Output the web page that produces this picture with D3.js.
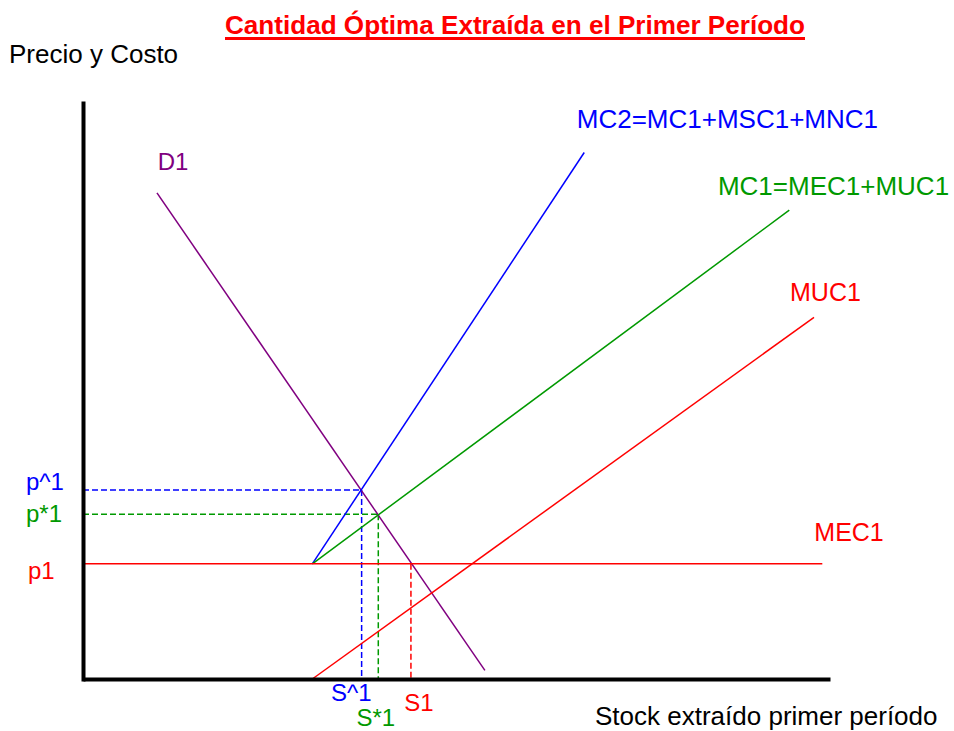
<!DOCTYPE html>
<html>
<head>
<meta charset="utf-8">
<script src="https://cdn.jsdelivr.net/npm/d3@7"></script>
<style>
  html, body { margin: 0; padding: 0; background: #fff; }
  svg { display: block; font-family: "Liberation Sans", Arial, sans-serif; }
</style>
</head>
<body>
<svg id="chart" width="954" height="731"></svg>
<script>
// ---- data (abstract units: stock on x, price/cost on y, both 0..10) ----
const titleText = "Cantidad Óptima Extraída en el Primer Período";
const yAxisTitle = "Precio y Costo";
const xAxisTitle = "Stock extraído primer período";

// curves: [x, y] endpoints
const curveNames  = ["D1", "MC2", "MC1", "MUC1", "MEC1"];
const curveLabels = ["D1", "MC2=MC1+MSC1+MNC1", "MC1=MEC1+MUC1", "MUC1", "MEC1"];
const curveColors = ["#800080", "#0000ff", "#009900", "#ff0000", "#ff0000"];
const curveStart  = [[0.99, 8.44], [3.07, 2.00], [3.07, 2.00], [3.07, 0.00], [0.00, 2.00]];
const curveEnd    = [[5.38, 0.15], [6.71, 9.14], [9.455, 8.14], [9.786, 6.28], [9.897, 2.00]];
// label anchor positions (data units)
const labelPos    = [[1.00, 8.83], [6.61, 9.56], [8.50, 8.40], [9.465, 6.57], [9.79, 2.40]];
const labelSize   = [24, 26, 26, 25, 25];

// equilibrium points (price level, stock level)
const eqNames   = ["p^1", "p*1", "p1"];
const eqSNames  = ["S^1", "S*1", "S1"];
const eqColors  = ["#0000ff", "#009900", "#ff0000"];
const eqPrice   = [3.28, 2.86, 2.00];
const eqStock   = [3.73, 3.953, 4.39];
const eqSLabelY = [-0.39, -0.81, -0.56];   // label baselines below the axis (data units)
const eqSLabelX = [3.32, 3.66, 4.30];      // label left edges (data units)

// ---- layout ----
const svg = d3.select("#chart");
const x = d3.scaleLinear().domain([0, 10]).range([83, 830]);
const y = d3.scaleLinear().domain([0, 10]).range([679, 103]);

// title
svg.append("text")
  .attr("x", 225).attr("y", 34)
  .attr("fill", "#ff0000")
  .attr("font-weight", "bold")
  .attr("font-size", 26)
  .attr("textLength", 580)
  .attr("lengthAdjust", "spacingAndGlyphs")
  .text(titleText);
svg.append("line")
  .attr("x1", 225).attr("x2", 805)
  .attr("y1", 38.5).attr("y2", 38.5)
  .attr("stroke", "#ff0000").attr("stroke-width", 3);

// axis titles
svg.append("text").attr("x", 9).attr("y", 63)
  .attr("font-size", 26).attr("fill", "#000").text(yAxisTitle);
svg.append("text").attr("x", 595).attr("y", 724.5)
  .attr("font-size", 26).attr("fill", "#000").text(xAxisTitle);

// dashed guide lines
const guides = svg.append("g").attr("fill", "none").attr("stroke-width", 1.5)
  .attr("stroke-dasharray", "6,3");
eqPrice.forEach((p, i) => {
  if (i < 2) {
    guides.append("line")
      .attr("x1", x(0)).attr("x2", x(eqStock[i]))
      .attr("y1", y(p)).attr("y2", y(p))
      .attr("stroke", eqColors[i]);
  }
  guides.append("line")
    .attr("x1", x(eqStock[i])).attr("x2", x(eqStock[i]))
    .attr("y1", y(p)).attr("y2", y(0))
    .attr("stroke", eqColors[i]);
});

// curves
const lineGen = d3.line().x(d => x(d[0])).y(d => y(d[1]));
curveNames.forEach((n, i) => {
  svg.append("path")
    .datum([curveStart[i], curveEnd[i]])
    .attr("d", lineGen)
    .attr("fill", "none")
    .attr("stroke", curveColors[i])
    .attr("stroke-width", 1.5);
  svg.append("text")
    .attr("x", x(labelPos[i][0])).attr("y", y(labelPos[i][1]))
    .attr("font-size", labelSize[i])
    .attr("fill", curveColors[i])
    .text(curveLabels[i]);
});

// price labels
const priceLabelX = [26, 26, 28];
const priceLabelY = [489.5, 521.5, 578.5];
eqNames.forEach((n, i) => {
  svg.append("text")
    .attr("x", priceLabelX[i]).attr("y", priceLabelY[i])
    .attr("font-size", 24).attr("fill", eqColors[i])
    .text(n);
});
// stock labels
eqSNames.forEach((n, i) => {
  svg.append("text")
    .attr("x", x(eqSLabelX[i])).attr("y", y(eqSLabelY[i]))
    .attr("font-size", 24).attr("fill", eqColors[i])
    .text(n);
});

// axes (no ticks, thick black)
const xAxis = svg.append("g").attr("transform", `translate(0,${y(0)})`)
  .call(d3.axisBottom(x).tickValues([]).tickSizeOuter(0));
const yAxis = svg.append("g").attr("transform", `translate(${x(0)},0)`)
  .call(d3.axisLeft(y).tickValues([]).tickSizeOuter(0));
xAxis.select(".domain").attr("stroke", "#000").attr("stroke-width", 4);
yAxis.select(".domain").attr("stroke", "#000").attr("stroke-width", 4)
  .attr("stroke-linecap", "square");
</script>
</body>
</html>
